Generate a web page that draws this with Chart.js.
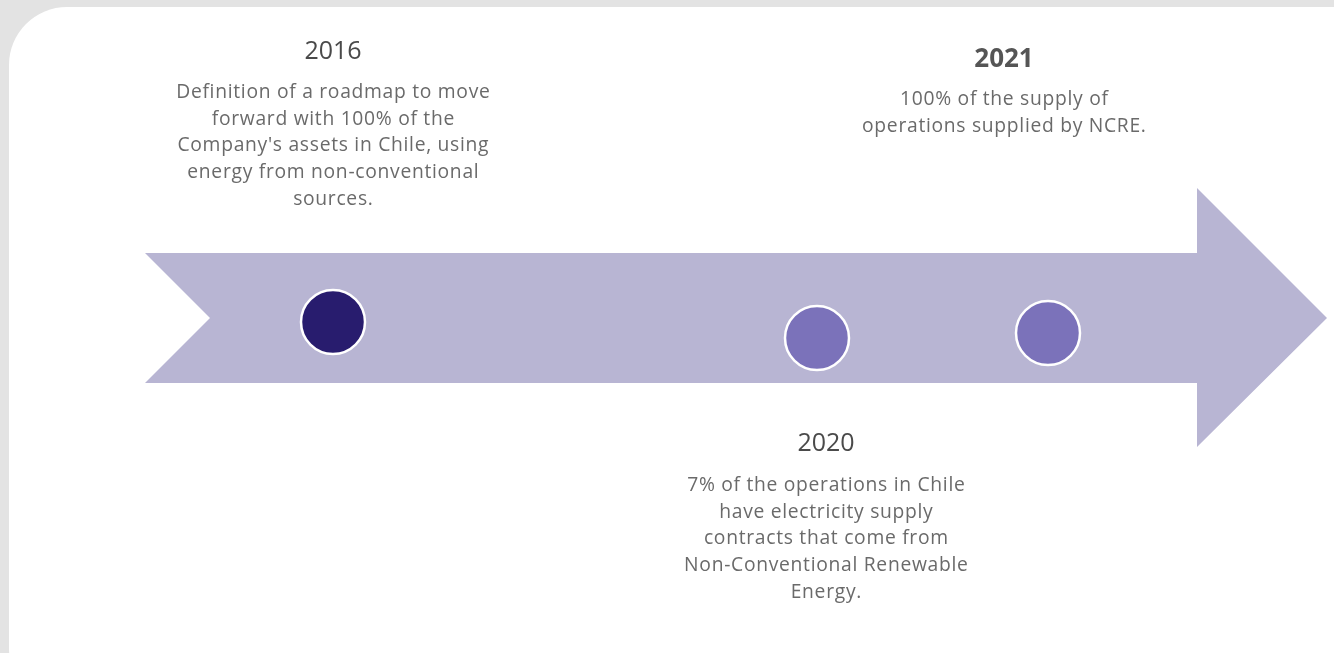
<!DOCTYPE html>
<html>
<head>
<meta charset="utf-8">
<script src="https://cdn.jsdelivr.net/npm/chart.js@4"></script>
<style>
  html, body { margin: 0; padding: 0; background: #e3e3e3; overflow: hidden; }
  .panel {
    position: absolute; left: 9px; top: 7px; width: 1400px; height: 700px;
    background: #ffffff; border-radius: 58px;
  }
  #timeline { position: absolute; left: 0; top: 0; }
</style>
</head>
<body>
<div class="panel"></div>
<canvas id="timeline" width="1334" height="653"></canvas>
<script>
// milestones
const years = ['2016', '2020', '2021'];
const descriptions = [
    ['Definition of a roadmap to move', 'forward with 100% of the', "Company's assets in Chile, using", 'energy from non-conventional', 'sources.'],
    ['7% of the operations in Chile', 'have electricity supply', 'contracts that come from', 'Non-Conventional Renewable', 'Energy.'],
    ['100% of the supply of', 'operations supplied by NCRE.']
];
const current = [true, false, false];

// layout (canvas units)
const markerX = [333, 817, 1048];
const markerY = [322, 338, 333];
const labelX = [333, 826, 1004];
const labelY = [59, 451, 67];
const bodyGap = [39, 40, 38];
const lineHeight = 26.7;
const arrowShape = [[145, 253], [1197, 253], [1197, 188], [1327, 318], [1197, 447], [1197, 383], [145, 383], [210, 318]];

const timelineCanvas = document.getElementById('timeline');

const arrowPlugin = {
    id: 'arrow',
    beforeDatasetsDraw(chart) {
        const { ctx, scales: { x, y } } = chart;
        ctx.save();
        ctx.beginPath();
        arrowShape.forEach(([px, py], i) => {
            const cx = x.getPixelForValue(px);
            const cy = y.getPixelForValue(py);
            if (i === 0) ctx.moveTo(cx, cy); else ctx.lineTo(cx, cy);
        });
        ctx.closePath();
        ctx.fillStyle = '#b8b5d3';
        ctx.fill();
        ctx.restore();
    }
};

const labelPlugin = {
    id: 'labels',
    afterDatasetsDraw(chart) {
        const { ctx, scales: { x, y } } = chart;
        ctx.save();
        ctx.textAlign = 'center';
        ctx.textBaseline = 'alphabetic';
        years.forEach((year, i) => {
            const cx = x.getPixelForValue(labelX[i]);
            const cy = y.getPixelForValue(labelY[i]);
            ctx.letterSpacing = '0px';
            ctx.fillStyle = i === 2 ? '#555555' : '#4a4a4a';
            ctx.font = (i === 2 ? 'bold 26px' : '25px') + ' "Open Sans"';
            ctx.fillText(year, cx, cy);
            ctx.letterSpacing = '0.7px';
            ctx.fillStyle = '#6a6a6a';
            ctx.font = '19.3px "Open Sans"';
            descriptions[i].forEach((line, j) => {
                ctx.fillText(line, cx + 0.35, cy + bodyGap[i] + j * lineHeight);
            });
        });
        ctx.restore();
    }
};

const timelineData = {
    datasets: [{
        data: years.map((yr, i) => ({ x: markerX[i], y: markerY[i] })),
        backgroundColor: current.map(c => c ? '#281c6e' : '#7b72ba'),
        borderColor: '#ffffff',
        borderWidth: 2.5,
        pointRadius: 32,
        pointHoverRadius: 32
    }]
};

const timelineOptions = {
    responsive: false,
    animation: false,
    layout: { padding: 0, autoPadding: false },
    scales: {
        x: { type: 'linear', min: 0, max: 1334, display: false },
        y: { type: 'linear', min: 0, max: 653, reverse: true, display: false }
    },
    plugins: {
        legend: { display: false },
        tooltip: { enabled: false }
    }
};

let timelineChart = new Chart(timelineCanvas, {
    type: 'scatter',
    data: timelineData,
    options: timelineOptions,
    plugins: [arrowPlugin, labelPlugin]
});
</script>
</body>
</html>
